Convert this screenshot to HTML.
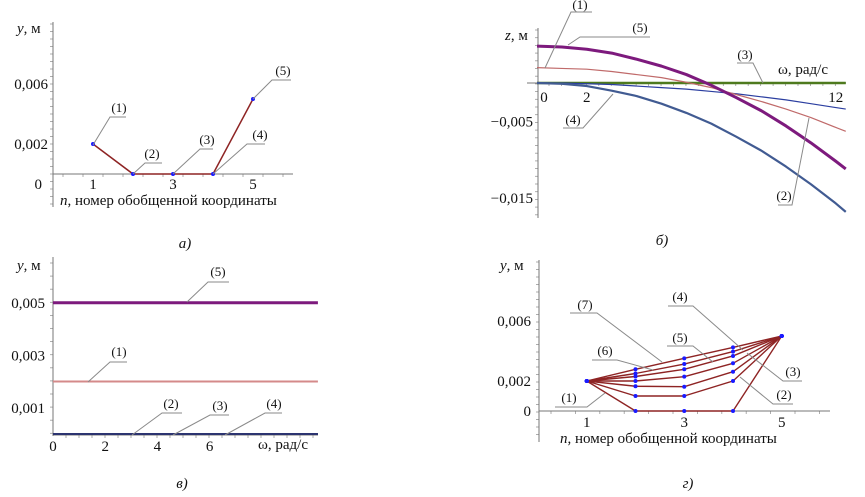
<!DOCTYPE html>
<html><head><meta charset="utf-8"><style>
html,body{margin:0;padding:0;background:#fff}
svg text{font-family:"Liberation Serif","DejaVu Serif",serif;fill:#111}
.t{font-size:15px}.c{font-size:13px}
</style></head><body>
<svg id="fig" width="865" height="492" viewBox="0 0 865 492" xmlns="http://www.w3.org/2000/svg">
<g id="ga"></g>
<g id="gb"></g>
<g id="gc"></g>
<g id="gd"></g>
</svg>
<script>
// ---- panel a data ----
const aN = [1,2,3,4,5];
const aY = [0.002,0,0,0,0.005];
const aXTicks = [1,3,5];
const aYTicks = [0.002,0.006];
const aYTickLabels = ["0,002","0,006"];
// ---- panel b data ----
const bW = [0,1,2,3,4,5,6,7,8,9,10,11,12,12.4];
const bS5 = [0.0048,0.0047,0.0044,0.0039,0.0031,0.0022,0.0011,-0.0003,-0.0019,-0.0036,-0.0056,-0.0078,-0.0102,-0.0112];
const bS1 = [0.002,0.0019,0.0018,0.0015,0.0011,0.0007,0.0001,-0.0006,-0.0015,-0.0024,-0.0034,-0.0045,-0.0058,-0.0063];
const bS3 = [0,0,0,0,0,0,0,0,0,0,0,0,0,0];
const bS4 = [0,0,-0.0001,-0.0002,-0.0004,-0.0006,-0.0008,-0.0011,-0.0014,-0.0018,-0.0022,-0.0027,-0.0032,-0.0034];
const bS2 = [0,-0.0001,-0.0004,-0.001,-0.0017,-0.0027,-0.0039,-0.0053,-0.007,-0.0088,-0.0109,-0.0132,-0.0157,-0.0168];
const bXTicks = [0,2,12];
const bYTicks = [-0.005,-0.015];
const bYTickLabels = ["\u22120,005","\u22120,015"];
// ---- panel v data ----
const cW = [0,10.15];
const cLevels = [0.005,0.002,0,0,0];
const cXTicks = [0,2,4,6];
const cYTicks = [0.001,0.003,0.005];
const cYTickLabels = ["0,001","0,003","0,005"];
// ---- panel g data ----
const dN = [1,2,3,4,5];
const dS1 = [0.002,0.00278,0.00351,0.00424,0.005];
const dS2 = [0.002,0.0025,0.00313,0.00396,0.005];
const dS3 = [0.002,0.0023,0.00278,0.00367,0.005];
const dS4 = [0.002,0.0020,0.00229,0.00318,0.005];
const dS5 = [0.002,0.00165,0.00162,0.00262,0.005];
const dS6 = [0.002,0.0010,0.0010,0.0020,0.005];
const dS7 = [0.002,0,0,0,0.005];
const dXTicks = [1,3,5];
const dYTicks = [0,0.002,0.006];
const dYTickLabels = ["0","0,002","0,006"];

const NS="http://www.w3.org/2000/svg";
const FONT='"Liberation Serif","DejaVu Serif",serif';
function mk(g,tag,attrs){const e=document.createElementNS(NS,tag);for(const k in attrs)e.setAttribute(k,attrs[k]);g.appendChild(e);return e;}
function ln(g,x1,y1,x2,y2,col,w,name){const e=mk(g,'line',{x1,y1,x2,y2,stroke:col,'stroke-width':w});

return e;}
function tx(g,x,y,s,cls,anchor,name,italic){const e=mk(g,'text',{x,y,'class':cls,'text-anchor':anchor||'start','font-family':FONT,'font-size':cls==='c'?13:15});e.textContent=s;if(italic)e.setAttribute('font-style','italic');

return e;}
function poly(g,xs,ys,fx,fy,col,w,name){const pts=xs.map((x,i)=>fx(x)+','+fy(ys[i])).join(' ');const e=mk(g,'polyline',{points:pts,fill:'none',stroke:col,'stroke-width':w,'stroke-linejoin':'round'});

return e;}
function dots(g,xs,ys,fx,fy,name){xs.forEach((x,i)=>{const c=mk(g,'circle',{cx:fx(x),cy:fy(ys[i]),r:2,fill:'#1a1aff'});

});}
function callout(g,pts,lbl,lx,ly,name){const e=mk(g,'polyline',{points:pts,fill:'none',stroke:'#8a8a8a','stroke-width':1});


tx(g,lx,ly,lbl,'c','middle',name);}
function yMinor(g,x,y0,y1,step){for(let y=y0;y<=y1;y+=step){ln(g,x-3,y,x,y,'#999',0.8,'y-minor-tick');}}
function xMinor(g,y,x0,x1,step){for(let x=x0;x<=x1;x+=step){ln(g,x,y,x,y+3,'#999',0.8,'x-minor-tick');}}
const gray='#777';
const red='#8e2424';

// ===== panel a =====
(function(){const g=document.getElementById('ga');
const xA=n=>53+40*n, yA=v=>174-15000*v;
yMinor(g,53,24,205,7.5); xMinor(g,174,63,293,20);
ln(g,53,22,53,207,gray,1,'y-axis'); ln(g,53,174,293,174,gray,1,'x-axis');
aXTicks.forEach(t=>tx(g,xA(t),189,String(t),'t','middle','x-tick-label'));
aYTicks.forEach((t,i)=>tx(g,48,yA(t)+5,aYTickLabels[i],'t','end','y-tick-label'));
tx(g,42,189,'0','t','end','y-tick-label');
poly(g,aN,aY,xA,yA,red,1.5,'series-line'); dots(g,aN,aY,xA,yA,'data-point');
const yl=tx(g,17,33,'','t','start','y-axis-title');yl.innerHTML='<tspan font-style="italic">y</tspan>, м';
const xl=tx(g,60,205,'','t','start','x-axis-title');xl.innerHTML='<tspan font-style="italic">n</tspan>, номер обобщенной координаты';
callout(g,'93,145 110,117 126,117','(1)',119,112,'callout-1');
callout(g,'133,174 145,163 162,163','(2)',152,158,'callout-2');
callout(g,'173,174 200,149 213,149','(3)',207,144,'callout-3');
callout(g,'213,174 247,144 265,144','(4)',260,139,'callout-4');
callout(g,'253,99 272,80 291,80','(5)',283,75,'callout-5');
tx(g,185,248,'а)','t','middle','caption-a',true);
})();

// ===== panel b =====
(function(){const g=document.getElementById('gb');
const xB=w=>537+24.9*w, yB=v=>83-7670*v;
yMinor(g,538,30,218,7.7); xMinor(g,83,549,846,12.45);
ln(g,538,28,538,218,gray,1,'y-axis'); ln(g,527,83,846,83,gray,1,'x-axis');
bXTicks.forEach(t=>tx(g,xB(t)+(t===0?7:0),102,String(t),'t','middle','x-tick-label'));
bYTicks.forEach((t,i)=>tx(g,533,yB(t)+5,bYTickLabels[i],'t','end','y-tick-label'));
poly(g,bW,bS3,xB,yB,'#4e7a1e',2.5,'series-3');
poly(g,bW,bS4,xB,yB,'#2b3ea0',1.2,'series-4-thin');
poly(g,bW,bS1,xB,yB,'#c06a6a',1.2,'series-1');
poly(g,bW,bS2,xB,yB,'#415b92',2.2,'series-2-thick');
poly(g,bW,bS5,xB,yB,'#7d1a7d',3,'series-5');
const yl=tx(g,505,40,'','t','start','y-axis-title');yl.innerHTML='<tspan font-style="italic">z</tspan>, м';
tx(g,778,74,'ω, рад/с','t','start','x-axis-title');
callout(g,'545,68 571,12 592,12','(1)',580,9,'callout-1');
callout(g,'568,45 580,37 650,37','(5)',640,32,'callout-5');
callout(g,'763,83 753,63 737,63','(3)',745,59,'callout-3');
callout(g,'613,94 583,128 563,128','(4)',573,124,'callout-4');
callout(g,'809,118 792,205 778,205','(2)',784,200,'callout-2');
tx(g,662,245,'б)','t','middle','caption-b',true);
})();

// ===== panel v =====
(function(){const g=document.getElementById('gc');
const xC=w=>53+26.1*w, yC=v=>434-26250*v;
yMinor(g,53,263,434,13.1); xMinor(g,435,66,318,13);
ln(g,53,257,53,436,gray,1,'y-axis'); ln(g,53,435,318,435,gray,1,'x-axis');
cXTicks.forEach(t=>tx(g,xC(t),451,String(t),'t','middle','x-tick-label'));
cYTicks.forEach((t,i)=>tx(g,45,yC(t)+5,cYTickLabels[i],'t','end','y-tick-label'));
const cols=['#7d1a7d','#d48a8a','#2c3470','#2c3470','#2c3470'];
const widths=[3,2,2,2,2];
cLevels.forEach((v,i)=>poly(g,cW,[v,v],xC,yC,cols[i],widths[i],'series-level-'+(i+1)));
const yl=tx(g,17,270,'','t','start','y-axis-title');yl.innerHTML='<tspan font-style="italic">y</tspan>, м';
tx(g,258,449,'ω, рад/с','t','start','x-axis-title');
callout(g,'187,302 208,282 229,282','(5)',218,276,'callout-5');
callout(g,'88,382 110,362 127,362','(1)',119,356,'callout-1');
callout(g,'132,435 162,413 182,413','(2)',171,408,'callout-2');
callout(g,'173,435 210,415 229,415','(3)',220,410,'callout-3');
callout(g,'225,435 265,413 282,413','(4)',274,408,'callout-4');
tx(g,182,488,'в)','t','middle','caption-v',true);
})();

// ===== panel g =====
(function(){const g=document.getElementById('gd');
const xD=n=>538+48.75*n, yD=v=>411-15000*v;
yMinor(g,539,262,441,7.5); xMinor(g,411,551,830,24.4);
ln(g,539,260,539,442,gray,1,'y-axis'); ln(g,539,411,830,411,gray,1,'x-axis');
dXTicks.forEach(t=>tx(g,xD(t),427,String(t),'t','middle','x-tick-label'));
dYTicks.forEach((t,i)=>tx(g,531,yD(t)+5,dYTickLabels[i],'t','end','y-tick-label'));
[dS1,dS2,dS3,dS4,dS5,dS6,dS7].forEach((s,i)=>{poly(g,dN,s,xD,yD,red,1.4,'series-'+(i+1));});
[dS1,dS2,dS3,dS4,dS5,dS6,dS7].forEach((s,i)=>dots(g,dN,s,xD,yD,'data-point'));
const yl=tx(g,500,270,'','t','start','y-axis-title');yl.innerHTML='<tspan font-style="italic">y</tspan>, м';
const xl=tx(g,560,443,'','t','start','x-axis-title');xl.innerHTML='<tspan font-style="italic">n</tspan>, номер обобщенной координаты';
callout(g,'605,393 587,407 555,407','(1)',569,402,'callout-1');
callout(g,'662,362 597,313 570,313','(7)',585,309,'callout-7');
callout(g,'653,370 617,360 592,360','(6)',605,355,'callout-6');
callout(g,'713,362 693,346 667,346','(5)',680,342,'callout-5');
callout(g,'743,350 693,306 668,306','(4)',680,301,'callout-4');
callout(g,'747,353 783,381 802,381','(3)',793,376,'callout-3');
callout(g,'740,377 773,404 793,404','(2)',784,399,'callout-2');
tx(g,688,488,'г)','t','middle','caption-g',true);
})();
</script>
</body></html>
